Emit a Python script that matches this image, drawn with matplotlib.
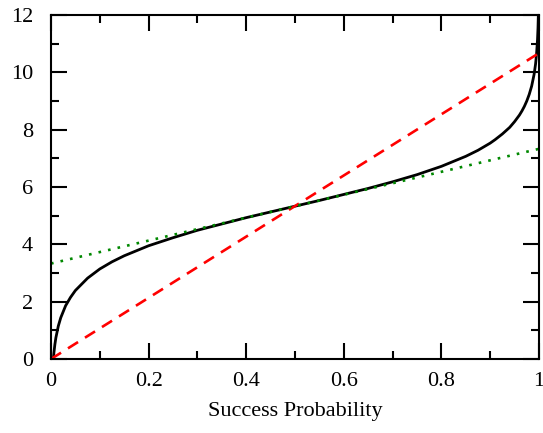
import matplotlib
matplotlib.use("Agg")
import matplotlib.pyplot as plt
from matplotlib.ticker import MultipleLocator, FormatStrFormatter

plt.rcParams['font.family'] = ['Liberation Serif', 'DejaVu Serif']

# Black curve: values
p_black = [0.0048, 0.006, 0.008, 0.01, 0.015, 0.02, 0.03, 0.04, 0.05, 0.075, 0.1, 0.125, 0.15,
           0.2, 0.25, 0.3, 0.35, 0.4, 0.45, 0.5, 0.55, 0.6, 0.65, 0.7, 0.75,
           0.8, 0.85, 0.875, 0.9, 0.91, 0.925, 0.94, 0.95, 0.96, 0.965, 0.97, 0.975,
           0.98, 0.985, 0.99, 0.993, 0.995, 0.997, 0.998, 0.9987]
y_black = [0.0, 0.22, 0.51, 0.74, 1.15, 1.44, 1.86, 2.15, 2.39, 2.82, 3.14, 3.39, 3.60,
           3.95, 4.23, 4.49, 4.71, 4.93, 5.13, 5.33, 5.53, 5.74, 5.95, 6.18, 6.43,
           6.72, 7.07, 7.28, 7.53, 7.65, 7.85, 8.08, 8.28, 8.51, 8.65, 8.81, 9.00,
           9.23, 9.52, 9.93, 10.29, 10.63, 11.14, 11.55, 12.0]

# Red dashed line endpoints
p_red = [0.0, 1.0]
y_red = [0.0, 10.67]

# Green dotted line endpoints
p_green = [0.0, 1.0]
y_green = [3.33, 7.33]

x_label = "Success Probability"

fig = plt.figure(figsize=(5.43, 4.33), dpi=100)
ax = fig.add_axes([0.0939, 0.1709, 0.8987, 0.7945])

ax.plot(p_black, y_black, color='black', lw=2.0)
ax.plot(p_red, y_red, color='#ff0000', lw=1.9, dashes=(4.5, 3.1))
ax.plot(p_green, y_green, color='#008800', lw=1.9, linestyle=(0, (1, 2.7)))

ax.set_xlim(0, 1)
ax.set_ylim(0, 12)
ax.xaxis.set_major_locator(MultipleLocator(0.2))
ax.xaxis.set_minor_locator(MultipleLocator(0.1))
ax.yaxis.set_major_locator(MultipleLocator(2))
ax.yaxis.set_minor_locator(MultipleLocator(1))
ax.xaxis.set_major_formatter(FormatStrFormatter('%g'))
ax.yaxis.set_major_formatter(FormatStrFormatter('%g'))

for s in ax.spines.values():
    s.set_linewidth(1.5)
ax.tick_params(which='both', direction='in', top=True, right=True, width=1.5, labelsize=16)
ax.tick_params(which='major', length=11.5)
ax.tick_params(which='minor', length=6.0)
ax.tick_params(axis='y', pad=13)
ax.tick_params(axis='x', pad=9.5)

ax.set_xlabel(x_label, fontsize=16, labelpad=8)

fig.savefig("out.png", dpi=100)
